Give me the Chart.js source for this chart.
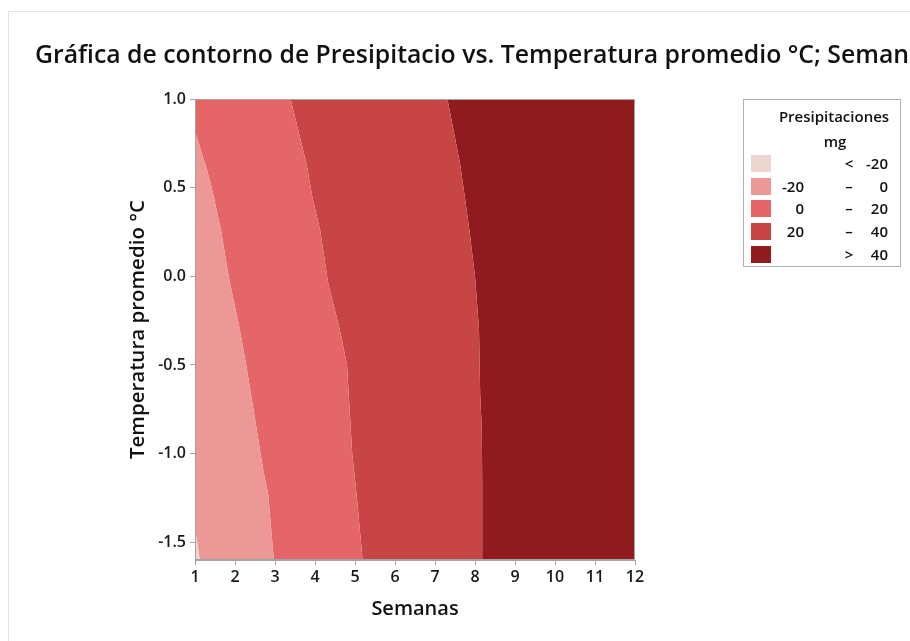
<!DOCTYPE html>
<html>
<head>
<meta charset="utf-8">
<script src="https://cdn.jsdelivr.net/npm/chart.js@4/dist/chart.umd.min.js"></script>
<style>
html,body{margin:0;padding:0;background:#fff;}
#wrap{position:relative;width:910px;height:641px;overflow:hidden;font-family:"Open Sans","Noto Sans",sans-serif;color:#111;}
#frame{position:absolute;left:8px;top:11px;width:940px;height:660px;border:1px solid #e2e2e2;box-sizing:border-box;}
#title{position:absolute;left:35px;top:36px;white-space:nowrap;font-size:24.8px;font-weight:600;color:#111;}
#chart{position:absolute;left:0;top:0;}
#legend{position:absolute;left:743px;top:99px;width:158px;height:168px;border:1px solid #b0b0b0;box-sizing:border-box;background:#fff;font-size:15px;font-weight:600;}
#legend .t{position:absolute;white-space:nowrap;line-height:18px;}
#legend .sw{position:absolute;width:20px;height:17px;}
</style>
</head>
<body>
<div id="wrap">
  <div id="frame"></div>
  <canvas id="chart" width="910" height="641"></canvas>
  <div id="title">Gráfica de contorno de Presipitacio vs. Temperatura promedio °C; Semanas</div>
  <div id="legend"></div>
</div>
<script>
// ---- data ----
const semanasRange = [1, 12];
const tempRange = [-1.6, 1.0];
const xTicks = [1, 2, 3, 4, 5, 6, 7, 8, 9, 10, 11, 12];
const yTicks = [-1.5, -1.0, -0.5, 0.0, 0.5, 1.0];
const contourLevels = [-20, 0, 20, 40];
const levelColors = ['#EDD6D0', '#EB9896', '#E46668', '#C74545', '#8F1B1F'];
const legendTitle = ['Presipitaciones', 'mg'];

// contour lines: temperature (y) and semana (x) where Presipitaciones = level
const limNeg20Temp = [-1.42, -1.6];
const limNeg20Sem  = [1.0, 1.12];
const lim0Temp  = [0.82, 0.6, 0.5, 0.26, 0.0, -0.29, -0.5, -0.86, -1.1, -1.23, -1.6];
const lim0Sem   = [1.0, 1.3, 1.42, 1.65, 1.84, 2.11, 2.28, 2.54, 2.71, 2.83, 2.97];
const lim20Temp = [1.0, 0.63, 0.44, 0.26, -0.04, -0.3, -0.5, -1.0, -1.23, -1.6];
const lim20Sem  = [3.39, 3.79, 3.94, 4.13, 4.33, 4.62, 4.8, 4.93, 5.04, 5.19];
const lim40Temp = [1.0, 0.63, 0.44, 0.26, 0.0, -0.3, -0.67, -0.86, -1.14, -1.6];
const lim40Sem  = [7.31, 7.63, 7.75, 7.86, 8.0, 8.1, 8.13, 8.17, 8.18, 8.18];

// ---- build filled regions ----
const pts = (sem, temp) => sem.map((s, i) => ({x: s, y: temp[i]}));
const rev = a => a.slice().reverse();
const [xmin, xmax] = semanasRange;
const [ymin, ymax] = tempRange;

const cNeg20 = pts(limNeg20Sem, limNeg20Temp);
const c0 = pts(lim0Sem, lim0Temp);
const c20 = pts(lim20Sem, lim20Temp);
const c40 = pts(lim40Sem, lim40Temp);

const regions = [
  [...cNeg20, {x: xmin, y: ymin}],
  [...c0, ...rev(cNeg20)],
  [{x: xmin, y: ymax}, ...c20, ...rev(c0)],
  [...c40, ...rev(c20)],
  [{x: xmax, y: ymax}, {x: xmax, y: ymin}, ...rev(c40)]
];

const datasets = regions.map((poly, i) => ({
  data: poly,
  fill: 'shape',
  backgroundColor: levelColors[i],
  borderWidth: 0,
  borderColor: 'rgba(0,0,0,0)',
  pointRadius: 0,
  tension: 0
}));

const axisColor = '#a3a3a3';
const tickFont = {family: '"Open Sans", sans-serif', size: 16, weight: '600'};
const xTitleFont = {family: '"Open Sans", sans-serif', size: 20, weight: '600'};
const yTitleFont = {family: '"Open Sans", sans-serif', size: 20.5, weight: '600'};

const framePlugin = {
  id: 'frame',
  afterDatasetsDraw(chart) {
    const a = chart.chartArea, ctx = chart.ctx;
    ctx.save();
    ctx.strokeStyle = axisColor;
    ctx.lineWidth = 1;
    ctx.strokeRect(a.left + 0.5, a.top + 0.5, a.right - a.left - 1, a.bottom - a.top - 1);
    ctx.restore();
  }
};

new Chart(document.getElementById('chart'), {
  type: 'line',
  data: {datasets},
  plugins: [framePlugin],
  options: {
    responsive: false,
    animation: false,
    events: [],
    layout: {padding: {left: 122, right: 275, top: 99, bottom: 16}},
    plugins: {legend: {display: false}, tooltip: {enabled: false}, title: {display: false}},
    scales: {
      x: {
        type: 'linear', min: xmin, max: xmax,
        afterBuildTicks: s => { s.ticks = xTicks.map(v => ({value: v})); },
        afterFit: s => { s.height = 65; },
        ticks: {font: tickFont, color: '#1a1a1a', padding: 3, maxRotation: 0},
        grid: {drawOnChartArea: false, drawTicks: true, tickLength: 5, color: axisColor},
        border: {display: true, color: axisColor},
        title: {display: true, text: 'Semanas', font: xTitleFont, color: '#111'}
      },
      y: {
        type: 'linear', min: ymin, max: ymax,
        afterBuildTicks: s => { s.ticks = yTicks.map(v => ({value: v})); },
        afterFit: s => { s.width = 73; },
        ticks: {font: tickFont, color: '#1a1a1a', padding: 4, callback: v => Number(v).toFixed(1)},
        grid: {drawOnChartArea: false, drawTicks: true, tickLength: 5, color: axisColor},
        border: {display: true, color: axisColor},
        title: {display: true, text: 'Temperatura promedio °C', font: yTitleFont, color: '#111'}
      }
    }
  }
});

// ---- legend ----
const leg = document.getElementById('legend');
function addText(txt, left, top, align) {
  const d = document.createElement('div');
  d.className = 't';
  d.textContent = txt;
  d.style.top = (top - 9) + 'px';
  if (align === 'right') { d.style.right = (156 - left) + 'px'; }
  else if (align === 'center') { d.style.left = (left - 100) + 'px'; d.style.width = '200px'; d.style.textAlign = 'center'; }
  else { d.style.left = left + 'px'; }
  leg.appendChild(d);
}
addText(legendTitle[0], 90, 16, 'center');
addText(legendTitle[1], 91, 41, 'center');
const rowY = [63, 86, 108, 131, 154];
levelColors.forEach((c, i) => {
  const sw = document.createElement('div');
  sw.className = 'sw';
  sw.style.left = '7px';
  sw.style.top = (rowY[i] - 8) + 'px';
  sw.style.background = c;
  leg.appendChild(sw);
  let lo = '', sym = '–', hi = '';
  if (i === 0) { sym = '<'; hi = String(contourLevels[0]); }
  else if (i === levelColors.length - 1) { sym = '>'; hi = String(contourLevels[contourLevels.length - 1]); }
  else { lo = String(contourLevels[i - 1]); hi = String(contourLevels[i]); }
  if (lo) addText(lo, 60, rowY[i], 'right');
  addText(sym, 105, rowY[i], 'center');
  addText(hi, 144, rowY[i], 'right');
});
</script>
</body>
</html>
